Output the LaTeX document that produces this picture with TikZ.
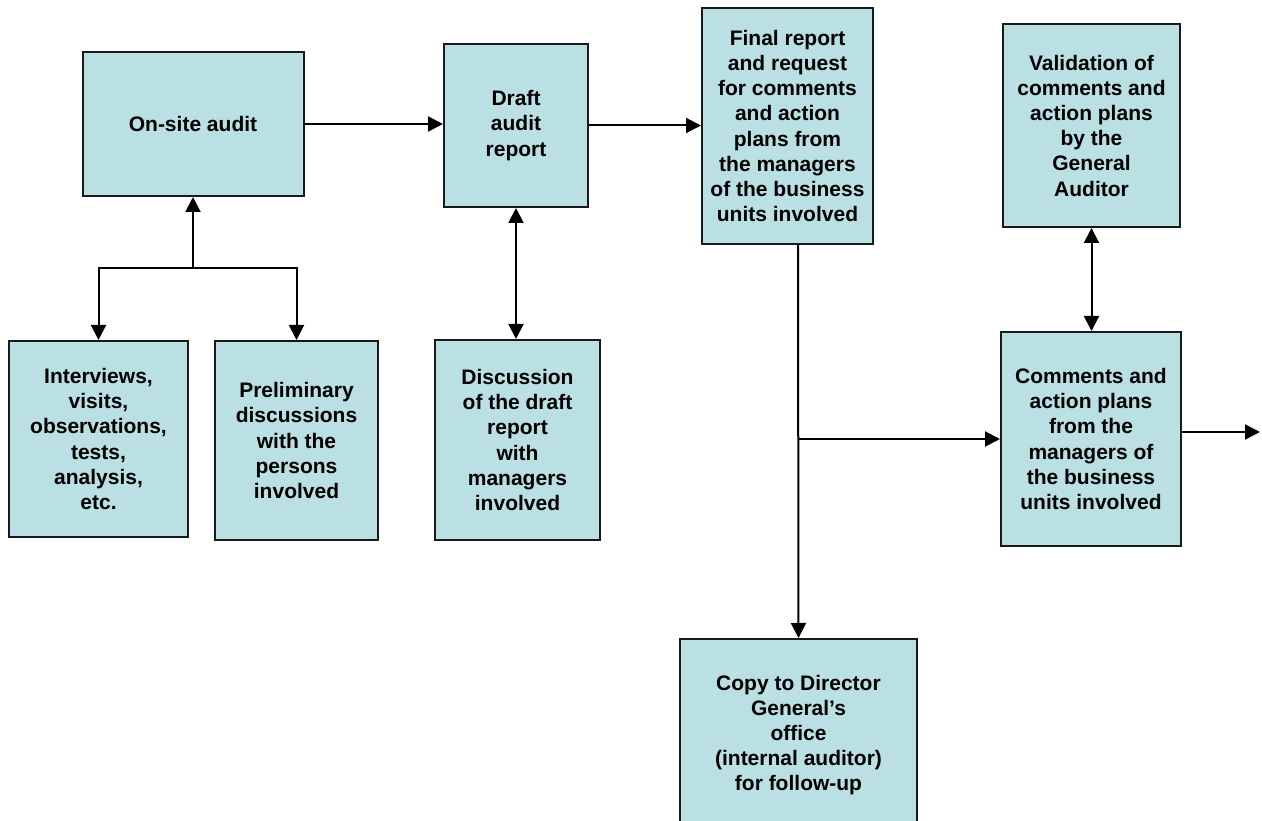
\documentclass[tikz,border=0pt]{standalone}
\usepackage{fontspec}
\setmainfont{Liberation Sans}
\usetikzlibrary{arrows.meta}
\definecolor{boxfill}{RGB}{187,224,227}
\definecolor{boxline}{RGB}{25,25,25}
\tikzset{
  box/.style={draw=boxline, fill=boxfill, line width=2pt, inner sep=0pt, align=center,
    font=\fontsize{21pt}{25.2pt}\selectfont\bfseries},
  conn/.style={line width=2pt, draw=black},
  arr/.style={conn, -{Triangle[length=15pt,width=15pt]}},
  darr/.style={conn, {Triangle[length=15pt,width=15pt]}-{Triangle[length=15pt,width=15pt]}}
}
\begin{document}
\begin{tikzpicture}[x=1pt,y=-1pt]
\useasboundingbox (0,0) rectangle (1262,821);
\clip (0,0) rectangle (1262,821);
% boxes
\node[box, minimum width=221pt, minimum height=144pt] (onsite) at (193,124) {On-site audit};
\node[box, minimum width=179pt, minimum height=196pt] (interv) at (98.5,439) {Interviews,\\visits,\\observations,\\tests,\\analysis,\\etc.};
\node[box, minimum width=163pt, minimum height=199pt] (prelim) at (296.5,440.5) {Preliminary\\discussions\\with the\\persons\\involved};
\node[box, minimum width=144pt, minimum height=163pt] (draft) at (516,125.5) {Draft\\audit\\report};
\node[box, minimum width=165pt, minimum height=200pt] (discuss) at (517.5,440) {Discussion\\of the draft\\report\\with\\managers\\involved};
\node[box, minimum width=171pt, minimum height=236pt] (final) at (787.5,126) {Final report\\and request\\for comments\\and action\\plans from\\the managers\\of the business\\units involved};
\node[box, minimum width=177pt, minimum height=203pt] (valid) at (1091.5,125.5) {Validation of\\comments and\\action plans\\by the\\General\\Auditor};
\node[box, minimum width=180pt, minimum height=214pt] (comm) at (1091,439) {Comments and\\action plans\\from the\\managers of\\the business\\units involved};
\node[box, minimum width=237pt, minimum height=192pt] (copy) at (798.5,735) {Copy to Director\\General’s\\office\\(internal auditor)\\for follow-up};
% coordinates
\coordinate (j1) at (193,268);
\coordinate (ftop) at (798,245);
\coordinate (fb) at (798,439);
\coordinate (out) at (1260,432);
% connectors
\draw[arr] (onsite.east) -- (onsite.east -| draft.west);
\draw[arr] (draft.east) -- (draft.east -| final.west);
\draw[arr] (j1) -- (onsite.south);
\draw[arr] (j1) -| (interv.north);
\draw[arr] (j1) -| (prelim.north);
\draw[darr] (draft.south) -- (draft.south |- discuss.north);
\draw[arr] (ftop) -- (copy.north);
\draw[arr] (fb) -- (fb -| comm.west);
\draw[darr] (valid.south) -- (valid.south |- comm.north);
\draw[arr] (out -| comm.east) -- (out);
\end{tikzpicture}
\end{document}
